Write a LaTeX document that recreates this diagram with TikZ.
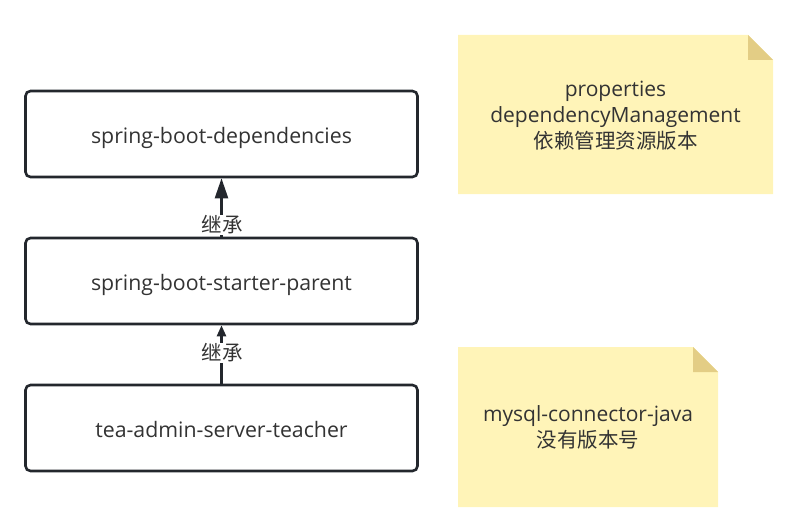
\documentclass[tikz,border=0pt]{standalone}
\usepackage{fontspec}
\setmainfont{Open Sans}
\newfontfamily\cjk{Noto Sans CJK SC}
\newcommand{\zh}[1]{{\fontsize{20.5}{26}\selectfont\cjk #1}}
\usetikzlibrary{arrows.meta}
\definecolor{boxline}{HTML}{23272D}
\definecolor{txt}{HTML}{333333}
\definecolor{notefill}{HTML}{FFF4B8}
\definecolor{foldfill}{HTML}{E3CD85}
\begin{document}
\begin{tikzpicture}[x=1pt,y=-1pt,
  box/.style={draw=boxline,line width=2.6pt,rounded corners=5pt,fill=white,
    minimum width=392pt,minimum height=86pt,inner sep=0pt,text height=19pt,text depth=0pt,
    text=txt,font=\fontsize{21.3}{26}\selectfont},
  notetext/.style={text=txt,align=center,font=\fontsize{21}{26}\selectfont},
  conn/.style={draw=boxline,line width=2.4pt},
  lbl/.style={fill=white,text=txt,inner sep=0.3pt,font=\fontsize{20.5}{22}\selectfont\cjk}]
\useasboundingbox (0,0) rectangle (786,508);
% boxes
\node[box] (b1) at (221.5,134) {spring-boot-dependencies};
\node[box] (b2) at (221.5,281) {spring-boot-starter-parent};
\node[box] (b3) at (221.5,428) {tea-admin-server-teacher};
% notes
\fill[notefill] (458,35) -- (748,35) -- (773,60) -- (773,194) -- (458,194) -- cycle;
\fill[foldfill] (748,35) -- (773,60) -- (748,60) -- cycle;
\node[notetext] (n1) at (615.5,116) {properties\\dependencyManagement\\\zh{依赖管理资源版本}};
\fill[notefill] (458,347) -- (693,347) -- (718,372) -- (718,507) -- (458,507) -- cycle;
\fill[foldfill] (693,347) -- (718,372) -- (693,372) -- cycle;
\node[notetext] (n2) at (588,427) {mysql-connector-java\\\zh{没有版本号}};
% connectors
\draw[conn,-{Triangle[length=20pt,width=13pt]}] (b2.north) -- (b1.south);
\node[lbl] (l1) at (222,225) {继承};
\draw[conn,-{Triangle[length=11pt,width=9pt]}] (b3.north) -- (b2.south);
\node[lbl] (l2) at (222,353) {继承};
\end{tikzpicture}
\end{document}
